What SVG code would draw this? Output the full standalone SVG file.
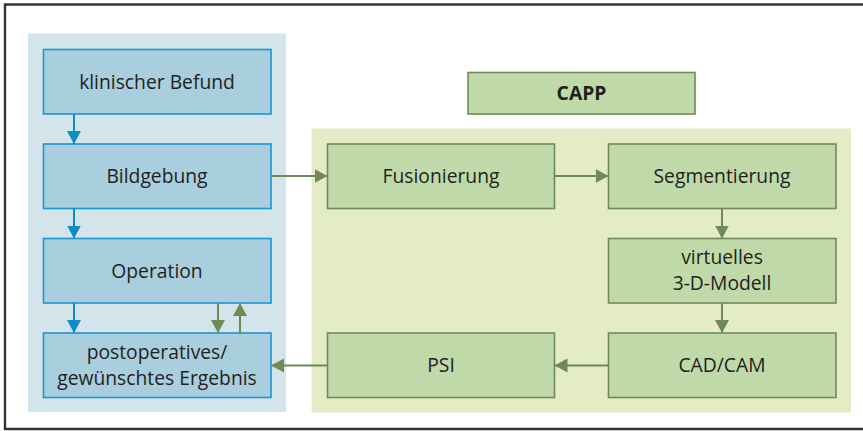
<svg xmlns="http://www.w3.org/2000/svg" width="863" height="431" viewBox="0 0 863 431">
  <defs>
    <style>
      .frame { fill: none; stroke: #333333; stroke-width: 2.4; }
      .bpanel { fill: #d3e4eb; }
      .gpanel { fill: #e4ecc5; }
      .bbox { fill: #a9cedd; stroke: #1a96d0; stroke-width: 1.6; }
      .gbox { fill: #bfd9a9; stroke: #708a5a; stroke-width: 1.6; }
      .t { font-family: "Open Sans", "Noto Sans", sans-serif; font-size: 19.3px; fill: #231f20; text-anchor: middle; }
      .tb { font-family: "Open Sans", "Noto Sans", sans-serif; font-size: 19.3px; font-weight: bold; fill: #231f20; text-anchor: middle; }
      .cb { fill: none; stroke: #0e8cc8; stroke-width: 2; }
      .cg { fill: none; stroke: #6f8a58; stroke-width: 2; }
    </style>
    <marker id="ab" markerUnits="userSpaceOnUse" markerWidth="15" markerHeight="15" refX="13" refY="7" orient="auto">
      <path d="M0,0 L13,7 L0,14 z" fill="#0e8cc8"/>
    </marker>
    <marker id="ag" markerUnits="userSpaceOnUse" markerWidth="15" markerHeight="15" refX="13" refY="7" orient="auto">
      <path d="M0,0 L13,7 L0,14 z" fill="#6f8a58"/>
    </marker>
  </defs>
  <rect width="863" height="431" fill="#ffffff"/>
  <path class="frame" d="M870,4.5 H5 V429 H870"/>
  <rect class="bpanel" x="28" y="33.5" width="258" height="378.5"/>
  <rect class="gpanel" x="311.5" y="128.5" width="539.5" height="284"/>

  <g id="klinischer-befund">
    <rect class="bbox" x="43.5" y="49.5" width="227.5" height="64.5"/>
    <text class="t" x="157" y="88.5">klinischer Befund</text>
  </g>
  <g id="bildgebung">
    <rect class="bbox" x="43.5" y="144" width="227.5" height="64.5"/>
    <text class="t" x="157" y="183">Bildgebung</text>
  </g>
  <g id="operation">
    <rect class="bbox" x="43.5" y="238.5" width="227.5" height="64.5"/>
    <text class="t" x="157" y="277.5">Operation</text>
  </g>
  <g id="ergebnis">
    <rect class="bbox" x="43.5" y="333" width="227.5" height="64.5"/>
    <text class="t" x="157" y="358.5">postoperatives/<tspan x="157" dy="26.5">gewünschtes Ergebnis</tspan></text>
  </g>
  <g id="capp">
    <rect class="gbox" x="468" y="72.5" width="227" height="41.5"/>
    <text class="tb" x="581.5" y="100">CAPP</text>
  </g>
  <g id="fusionierung">
    <rect class="gbox" x="327.5" y="144" width="227" height="64.5"/>
    <text class="t" x="441" y="183">Fusionierung</text>
  </g>
  <g id="segmentierung">
    <rect class="gbox" x="608.5" y="144" width="227.5" height="64.5"/>
    <text class="t" x="722" y="183">Segmentierung</text>
  </g>
  <g id="modell">
    <rect class="gbox" x="608.5" y="238.5" width="227.5" height="64.5"/>
    <text class="t" x="722" y="263.5">virtuelles<tspan x="722" dy="26.5">3-D-Modell</tspan></text>
  </g>
  <g id="cadcam">
    <rect class="gbox" x="608.5" y="333" width="227.5" height="64.5"/>
    <text class="t" x="722" y="372">CAD/CAM</text>
  </g>
  <g id="psi">
    <rect class="gbox" x="327.5" y="333" width="227" height="64.5"/>
    <text class="t" x="441" y="372">PSI</text>
  </g>

  <g id="connectors">
    <line class="cb" x1="74" y1="114" x2="74" y2="144" marker-end="url(#ab)"/>
    <line class="cb" x1="74" y1="208.5" x2="74" y2="238.5" marker-end="url(#ab)"/>
    <line class="cb" x1="74" y1="303" x2="74" y2="333" marker-end="url(#ab)"/>
    <line class="cg" x1="218" y1="303" x2="218" y2="333" marker-end="url(#ag)"/>
    <line class="cg" x1="240" y1="333" x2="240" y2="303" marker-end="url(#ag)"/>
    <line class="cg" x1="271" y1="176" x2="327.5" y2="176" marker-end="url(#ag)"/>
    <line class="cg" x1="554.5" y1="176" x2="608.5" y2="176" marker-end="url(#ag)"/>
    <line class="cg" x1="722" y1="208.5" x2="722" y2="238.5" marker-end="url(#ag)"/>
    <line class="cg" x1="722" y1="303" x2="722" y2="333" marker-end="url(#ag)"/>
    <line class="cg" x1="608.5" y1="365.5" x2="554.5" y2="365.5" marker-end="url(#ag)"/>
    <line class="cg" x1="327.5" y1="365.5" x2="271" y2="365.5" marker-end="url(#ag)"/>
  </g>
</svg>
